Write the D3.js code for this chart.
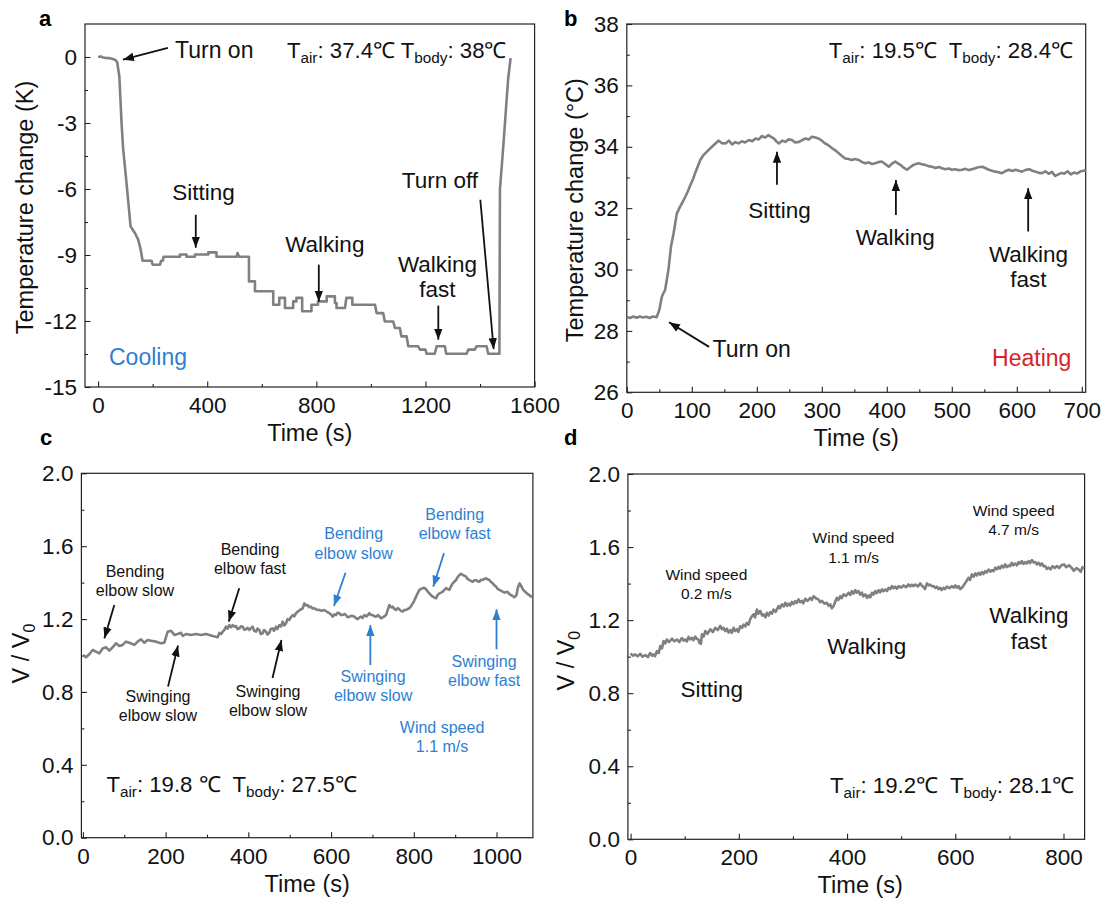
<!DOCTYPE html>
<html>
<head>
<meta charset="utf-8">
<script src="https://cdn.jsdelivr.net/npm/d3@7"></script>
<style>
  body { margin: 0; background: #fff; }
  svg { display: block; }
  text { font-family: "Liberation Sans", Arial, Helvetica, sans-serif; }
</style>
</head>
<body>
<svg id="fig" width="1106" height="902"></svg>
<script>
// ---------- (a) cooling: temperature change vs time ----------
const coolTime = [0, 10, 19, 28, 40, 50, 62, 70, 78, 82, 86, 92, 102, 110, 119, 127, 135, 147, 156, 163,
  196, 200, 227, 231, 237, 240, 300, 300, 324, 324, 355, 355, 404, 404, 434, 434, 508, 511, 517, 553,
  553, 575, 575, 642, 642, 664, 664, 685, 685, 715, 715, 727, 727, 748, 748, 782, 782, 806, 806, 838,
  838, 868, 868, 874, 874, 905, 910, 932, 932, 1015, 1021, 1045, 1051, 1082, 1088, 1106, 1112, 1131, 1137, 1173,
  1180, 1200, 1204, 1234, 1241, 1271, 1276, 1351, 1357, 1381, 1387, 1424, 1430, 1471, 1473, 1480, 1488, 1496, 1503, 1512];
const coolTemp = [0, 0.02, -0.02, -0.04, -0.05, -0.08, -0.12, -0.24, -0.9, -1.95, -3.0, -4.2, -5.45, -6.5, -7.7, -7.85, -8.0, -8.3, -8.75, -9.26,
  -9.26, -9.44, -9.44, -9.26, -9.26, -9.08, -9.08, -8.98, -8.98, -9.08, -9.08, -8.98, -8.98, -8.88, -8.88, -9.08, -9.08, -8.91, -9.08, -9.08,
  -10.2, -10.2, -10.65, -10.65, -11.26, -11.26, -10.95, -10.95, -11.41, -11.41, -11.11, -11.11, -10.95, -10.95, -11.56, -11.56, -11.26, -11.26, -11.11, -11.11,
  -10.88, -10.88, -11.18, -11.18, -11.41, -11.41, -10.95, -10.95, -11.26, -11.26, -11.64, -11.64, -12.02, -12.02, -12.32, -12.32, -12.7, -12.7, -13.15, -13.15,
  -13.3, -13.3, -13.49, -13.49, -13.15, -13.15, -13.49, -13.49, -13.3, -13.3, -13.15, -13.15, -13.49, -13.49, -6.0, -4.9, -3.6, -2.2, -1.0, -0.05];

// ---------- (b) heating: skin temperature vs time ----------
const heatTime = [0, 5, 10, 15, 20, 25, 30, 35, 40, 46, 50, 54, 59, 64, 68, 72, 77, 82, 86, 90,
  94, 98, 102, 105, 109, 113, 117, 121, 126, 131, 136, 141, 146, 152, 157, 162, 167, 172, 177, 182,
  188, 193, 198, 203, 208, 213, 218, 222, 226, 230, 234, 239, 244, 249, 254, 259, 265, 270, 275, 280,
  285, 290, 295, 300, 305, 310, 316, 321, 326, 331, 336, 341, 346, 351, 357, 362, 367, 372, 377, 382,
  387, 392, 397, 403, 408, 413, 417, 421, 426, 431, 436, 441, 445, 449, 454, 459, 464, 470, 475, 480,
  485, 490, 495, 500, 505, 510, 516, 521, 526, 531, 536, 541, 547, 552, 557, 562, 567, 572, 577, 582,
  588, 593, 598, 603, 608, 613, 619, 624, 629, 634, 639, 644, 649, 654, 659, 664, 669, 673, 678, 683,
  688, 693, 698, 703, 706];
const heatTemp = [28.45, 28.42, 28.47, 28.43, 28.47, 28.44, 28.46, 28.42, 28.47, 28.45, 28.68, 29.12, 29.34, 29.99, 30.75, 31.18, 31.83, 32.05, 32.2, 32.37,
  32.55, 32.76, 32.95, 33.14, 33.35, 33.57, 33.7, 33.79, 33.9, 34.0, 34.1, 34.2, 34.12, 34.11, 34.2, 34.08, 34.15, 34.11, 34.18, 34.14,
  34.22, 34.18, 34.27, 34.24, 34.35, 34.3, 34.38, 34.32, 34.27, 34.18, 34.11, 34.2, 34.16, 34.24, 34.22, 34.14, 34.16, 34.22, 34.27, 34.24,
  34.33, 34.3, 34.27, 34.2, 34.11, 34.05, 33.95, 33.88, 33.79, 33.7, 33.62, 33.6, 33.57, 33.6, 33.57, 33.5, 33.46, 33.49, 33.44, 33.46,
  33.5, 33.52, 33.45, 33.35, 33.45, 33.52, 33.46, 33.41, 33.32, 33.25, 33.33, 33.41, 33.44, 33.46, 33.43, 33.41, 33.37, 33.35, 33.31, 33.34,
  33.3, 33.27, 33.29, 33.25, 33.27, 33.24, 33.25, 33.28, 33.24, 33.27, 33.3, 33.33, 33.35, 33.3, 33.25, 33.22, 33.19, 33.17, 33.14, 33.2,
  33.25, 33.21, 33.25, 33.22, 33.19, 33.24, 33.27, 33.22, 33.19, 33.15, 33.14, 33.2, 33.12, 33.18, 33.05, 33.1, 33.15, 33.12, 33.2, 33.1,
  33.16, 33.13, 33.2, 33.22, 33.25];

// ---------- (c) output voltage ratio during arm motions: [time (s), V/V0] ----------
const armSeries = [[0,1.003],[7.5,0.99],[15.5,1.007],[23.6,1.03],[31.7,1.021],[39.7,1.012],[47.8,1.039],[55.8,1.045],[63.9,1.027],[72,1.045],
  [80,1.067],[88.1,1.052],[96.2,1.058],[104.2,1.076],[112.3,1.07],[124.4,1.058],[132.4,1.076],[140.5,1.089],[148.6,1.07],[156.6,1.085],
  [164.7,1.081],[176.8,1.076],[188.9,1.067],[196.9,1.07],[205,1.131],[213,1.136],[221.1,1.113],[229.2,1.118],[237.2,1.125],[241.3,1.107],
  [249.3,1.118],[261.4,1.113],[273.5,1.118],[285.6,1.113],[297.7,1.118],[313.8,1.107],[325.9,1.1],[330,1.125],[334,1.118],[338,1.131],
  [342,1.14],[346.1,1.158],[350,1.148],[354.1,1.167],[358,1.155],[362.2,1.167],[366,1.158],[370.2,1.162],[374,1.145],[378.3,1.149],
  [382,1.16],[386.4,1.158],[390,1.142],[394.4,1.144],[398,1.152],[402.5,1.14],[406,1.15],[410.5,1.158],[414,1.135],[418.6,1.131],
  [422,1.148],[426.7,1.14],[430,1.118],[434.7,1.122],[438,1.14],[442.8,1.131],[446,1.115],[450.8,1.125],[454,1.145],[458.9,1.149],
  [462,1.135],[467,1.158],[470,1.145],[475,1.167],[479,1.16],[483.1,1.186],[487,1.165],[491.1,1.177],[495,1.2],[499.2,1.195],
  [503,1.21],[507.3,1.222],[511,1.215],[515.3,1.232],[519.4,1.241],[525,1.25],[531.4,1.259],[535.5,1.286],[539,1.275],[543.5,1.277],
  [547,1.265],[551.6,1.268],[555,1.258],[559.7,1.259],[565,1.252],[571.8,1.25],[577,1.245],[583.8,1.25],[590,1.24],[595.9,1.232],
  [600,1.225],[604,1.213],[608,1.226],[612,1.222],[616,1.235],[620.1,1.232],[624,1.222],[628.2,1.222],[632,1.228],[636.2,1.222],
  [640,1.21],[644.3,1.213],[650,1.218],[656.4,1.213],[660,1.205],[664.5,1.199],[668,1.208],[672.5,1.213],[676,1.205],[680.6,1.222],
  [686,1.215],[692.7,1.232],[696,1.222],[700.7,1.222],[705,1.215],[708.8,1.213],[714,1.222],[720.9,1.204],[727,1.212],[733,1.222],
  [737,1.25],[741,1.277],[745,1.265],[749.1,1.268],[753,1.255],[757.2,1.25],[761,1.26],[765.2,1.253],[769,1.245],[773.3,1.241],
  [777,1.25],[781.3,1.25],[785,1.255],[789.4,1.259],[793,1.27],[797.5,1.286],[801,1.3],[805.5,1.323],[809,1.34],[813.6,1.36],
  [817,1.365],[821.6,1.369],[825,1.372],[829.7,1.363],[834,1.35],[837.8,1.341],[842,1.33],[845.8,1.323],[850,1.318],[853.9,1.314],
  [857,1.33],[861.9,1.341],[866,1.345],[870,1.35],[874,1.36],[878.1,1.369],[882,1.365],[886.1,1.36],[890,1.38],[894.2,1.396],
  [898,1.405],[902.2,1.414],[906,1.43],[910.3,1.442],[914,1.448],[918.4,1.442],[922,1.438],[926.4,1.433],[930,1.42],[934.5,1.414],
  [938,1.41],[942.5,1.405],[946,1.412],[950.6,1.414],[954,1.408],[958.7,1.405],[962,1.415],[966.7,1.414],[970,1.42],[974.8,1.424],
  [978,1.418],[982.8,1.414],[986,1.405],[990.9,1.396],[995,1.385],[999,1.378],[1003,1.365],[1007,1.36],[1015,1.35],[1020,1.345],
  [1026,1.35],[1032,1.335],[1038,1.328],[1043,1.32],[1048,1.33],[1052,1.375],[1056,1.396],[1060,1.38],[1064,1.362],[1069,1.35],
  [1074,1.34],[1080,1.33],[1086,1.32]];

// ---------- (d) output voltage ratio while sitting / walking: [time (s), V/V0] ----------
const walkSeries = [[0,1.018],[4,1.005],[8.5,1.012],[13,1.002],[17.8,1.015],[22,1.0],[27,1.008],[32,0.998],[36.3,1.02],[40,1.005],
  [42.4,1.012],[45,1.002],[48.6,1.03],[52,1.02],[54.8,1.058],[58,1.045],[60.9,1.085],[64,1.072],[67.1,1.094],[71,1.08],
  [76.3,1.098],[81,1.084],[85.6,1.094],[90,1.08],[94.8,1.102],[98,1.088],[101,1.094],[104,1.083],[107.1,1.108],[110,1.095],
  [113.3,1.103],[116,1.09],[119.4,1.11],[122,1.098],[125.6,1.093],[127,1.075],[128.7,1.085],[130,1.07],[131.8,1.122],[135,1.11],
  [137.9,1.14],[142,1.125],[147.2,1.15],[152,1.135],[156.4,1.158],[161,1.145],[165.6,1.168],[169,1.15],[171.8,1.158],[175,1.14],
  [178,1.153],[181,1.132],[184.1,1.145],[187,1.13],[190.3,1.158],[193,1.14],[196.5,1.15],[199,1.135],[202.6,1.167],[206,1.158],
  [208.8,1.176],[212,1.165],[214.9,1.185],[218,1.175],[221.1,1.205],[224,1.22],[227.3,1.232],[230,1.215],[233.4,1.258],[236,1.235],
  [239.6,1.25],[243,1.225],[245.7,1.232],[249,1.215],[251.9,1.24],[255,1.225],[258.1,1.244],[261,1.235],[264.2,1.258],[268,1.245],
  [273.5,1.277],[276,1.265],[279.6,1.286],[283,1.275],[285.8,1.295],[289,1.278],[291.9,1.29],[295,1.28],[298.1,1.3],[301,1.288],
  [304.3,1.304],[307,1.295],[310.4,1.313],[313,1.298],[316.6,1.305],[319,1.292],[322.8,1.317],[327,1.305],[332,1.322],[335,1.31],
  [338.2,1.331],[343,1.318],[347.4,1.313],[350,1.298],[353.6,1.305],[358,1.29],[362.8,1.295],[366,1.278],[369,1.286],[372,1.265],
  [375.1,1.277],[378,1.3],[381.3,1.322],[384,1.31],[387.4,1.331],[390,1.32],[393.6,1.341],[398,1.332],[402.8,1.35],[406,1.338],
  [409,1.359],[412,1.345],[415.2,1.364],[418,1.35],[421.3,1.359],[424,1.34],[427.5,1.35],[430,1.33],[433.7,1.341],[437,1.322],
  [439.8,1.335],[443,1.325],[446,1.35],[449,1.34],[452.1,1.359],[455,1.348],[458.3,1.364],[461,1.352],[464.5,1.368],[467,1.358],
  [470.6,1.368],[474,1.36],[476.8,1.377],[480,1.37],[483,1.386],[486,1.375],[489.1,1.383],[492,1.372],[495.3,1.386],[500,1.378],
  [504.5,1.39],[509,1.38],[513.7,1.395],[517,1.385],[519.9,1.394],[523,1.386],[526.1,1.395],[531,1.385],[535.3,1.401],[538,1.39],
  [541.5,1.38],[544,1.37],[547.6,1.401],[551,1.39],[553.8,1.394],[557,1.385],[560,1.386],[563,1.376],[566.1,1.383],[569,1.37],
  [572.3,1.377],[575,1.365],[578.4,1.377],[581,1.37],[584.6,1.383],[589,1.375],[593.8,1.386],[597,1.378],[600,1.39],[603,1.378],
  [606.2,1.386],[609,1.37],[612.3,1.377],[615,1.388],[618.5,1.404],[621,1.415],[624.6,1.432],[627,1.42],[630.8,1.45],[634,1.438],
  [637,1.456],[640,1.445],[643.1,1.459],[646,1.448],[649.3,1.463],[652,1.452],[655.4,1.468],[658,1.46],[661.6,1.477],[665,1.465],
  [667.8,1.474],[671,1.468],[673.9,1.487],[677,1.478],[680.1,1.492],[683,1.482],[686.3,1.499],[689,1.488],[692.4,1.505],[695,1.49],
  [698.6,1.499],[701,1.495],[704.7,1.514],[707,1.5],[710.9,1.51],[714,1.5],[717.1,1.518],[720,1.51],[723.2,1.523],[726,1.508],
  [729.4,1.518],[732,1.51],[735.6,1.523],[738,1.512],[741.7,1.529],[745,1.515],[747.9,1.518],[751,1.505],[754,1.514],[757,1.5],
  [760.2,1.51],[763,1.495],[766.4,1.496],[769,1.48],[772.5,1.487],[776,1.478],[780,1.495],[784,1.485],[788,1.496],[792,1.485],
  [796,1.5],[801,1.505],[805,1.49],[810,1.5],[815,1.487],[819,1.47],[824,1.485],[828,1.477],[832,1.465],[835,1.49],[838,1.482]];

// ---------- tick values ----------
const coolXTicks = [0, 400, 800, 1200, 1600];
const coolXMinor = [200, 600, 1000, 1400];
const coolYTicks = [-15, -12, -9, -6, -3, 0];
const coolYMinor = [-13.5, -10.5, -7.5, -4.5, -1.5];
const heatXTicks = [0, 100, 200, 300, 400, 500, 600, 700];
const heatXMinor = [50, 150, 250, 350, 450, 550, 650];
const heatYTicks = [26, 28, 30, 32, 34, 36, 38];
const heatYMinor = [27, 29, 31, 33, 35, 37];
const armXTicks = [0, 200, 400, 600, 800, 1000];
const armXMinor = [100, 300, 500, 700, 900];
const walkXTicks = [0, 200, 400, 600, 800];
const walkXMinor = [100, 300, 500, 700];
const ratioYTicks = [0, 0.4, 0.8, 1.2, 1.6, 2.0];
const ratioYMinor = [0.2, 0.6, 1.0, 1.4, 1.8];

const BLUE = "#2d7fd3";
const RED = "#d8232a";
const LINE = "#808080";
const INK = "#111";

const svg = d3.select("#fig");

// arrowhead markers
const defs = svg.append("defs");
[["headBlack", INK], ["headBlue", BLUE]].forEach(([id, col]) => {
  defs.append("marker").attr("id", id)
    .attr("viewBox", "-11 -5 11 10").attr("refX", 0).attr("refY", 0)
    .attr("markerWidth", 11).attr("markerHeight", 10)
    .attr("markerUnits", "userSpaceOnUse").attr("orient", "auto")
    .append("path").attr("d", "M-11,-4.2L0,0L-11,4.2Z").attr("fill", col);
});

function styleAxis(sel) {
  sel.select(".domain").remove();
  sel.selectAll("line").attr("stroke", "#222").attr("stroke-width", 1.1);
  sel.selectAll("text").attr("font-size", 22.5).attr("font-family", "Liberation Sans, Arial, sans-serif").attr("fill", INK);
}

function panel(o) {
  const g = svg.append("g");
  const x = d3.scaleLinear().domain(o.xDomain).range([o.left, o.right]);
  const y = d3.scaleLinear().domain(o.yDomain).range([o.bottom, o.top]);

  g.append("g").attr("transform", `translate(0,${o.bottom})`)
    .call(d3.axisBottom(x).tickValues(o.xMinor).tickSize(-3).tickFormat(""))
    .call(styleAxis);
  g.append("g").attr("transform", `translate(0,${o.bottom})`)
    .call(d3.axisBottom(x).tickValues(o.xTicks).tickSize(-5.5).tickPadding(10).tickFormat(o.xFmt))
    .call(styleAxis);
  g.append("g").attr("transform", `translate(${o.left},0)`)
    .call(d3.axisLeft(y).tickValues(o.yMinor).tickSize(-3).tickFormat(""))
    .call(styleAxis);
  g.append("g").attr("transform", `translate(${o.left},0)`)
    .call(d3.axisLeft(y).tickValues(o.yTicks).tickSize(-5.5).tickPadding(8).tickFormat(o.yFmt))
    .call(styleAxis);

  g.append("rect").attr("x", o.left).attr("y", o.top)
    .attr("width", o.right - o.left).attr("height", o.bottom - o.top)
    .attr("fill", "none").attr("stroke", "#222").attr("stroke-width", 1.2);

  g.append("path").datum(o.pts)
    .attr("d", d3.line().x(d => x(d[0])).y(d => y(d[1])))
    .attr("fill", "none").attr("stroke", LINE).attr("stroke-width", 2.6)
    .attr("stroke-linejoin", "round").attr("stroke-linecap", "butt");

  // axis titles
  g.append("text").attr("x", (o.left + o.right) / 2 + (o.xTitleDx || 0)).attr("y", o.bottom + 54)
    .attr("text-anchor", "middle").attr("font-size", 23.5).attr("fill", INK).text("Time (s)");
  const yt = g.append("text")
    .attr("transform", `translate(${o.yTitleX},${(o.top + o.bottom) / 2 + (o.yTitleDy || 0)}) rotate(-90)`)
    .attr("text-anchor", "middle").attr("font-size", 23.5).attr("fill", INK);
  o.yTitle.forEach(([s, sub]) => {
    if (sub) yt.append("tspan").attr("font-size", 16).attr("dy", 6).text(s);
    else yt.append("tspan").attr("dy", 0).text(s);
  });

  // panel letter
  svg.append("text").attr("x", o.letterX).attr("y", o.letterY)
    .attr("font-size", 22).attr("font-weight", "bold").attr("fill", "#000").text(o.letter);

  return { g, x, y };
}

// multi-line label, lines centred (or anchored) at a data point
function label(p, tx, vy, lines, opts = {}) {
  const size = opts.size || 22.5, gap = opts.gap || 25;
  const t = p.g.append("text").attr("x", p.x(tx)).attr("y", p.y(vy))
    .attr("text-anchor", opts.anchor || "middle").attr("font-size", size)
    .attr("fill", opts.color || INK);
  lines.forEach((s, i) => t.append("tspan").attr("x", p.x(tx)).attr("dy", i === 0 ? 0 : gap).text(s));
}

function arrow(p, t1, v1, t2, v2, color) {
  const blue = color === BLUE;
  p.g.append("line")
    .attr("x1", p.x(t1)).attr("y1", p.y(v1)).attr("x2", p.x(t2)).attr("y2", p.y(v2))
    .attr("stroke", blue ? BLUE : INK).attr("stroke-width", 1.8)
    .attr("marker-end", `url(#${blue ? "headBlue" : "headBlack"})`);
}

// "T_air: ...  T_body: ..." annotation with subscripts
function tempNote(p, tx, vy, parts, anchor) {
  const t = p.g.append("text").attr("x", p.x(tx)).attr("y", p.y(vy))
    .attr("text-anchor", anchor).attr("font-size", 22.2).attr("fill", INK).style("white-space", "pre");
  let shifted = false;
  parts.forEach(([s, sub]) => {
    const ts = t.append("tspan").text(s);
    if (sub && !shifted) { ts.attr("font-size", 15.3).attr("dy", 5); shifted = true; }
    else if (!sub && shifted) { ts.attr("dy", -5); shifted = false; }
  });
}

const fmtInt = d => String(d);
const fmt1 = d3.format(".1f");

// ---------- panel a ----------
const pa = panel({
  left: 85, right: 534.6, top: 24, bottom: 387,
  xDomain: [-48, 1600], yDomain: [-15, 1.5],
  xTicks: coolXTicks, xMinor: coolXMinor, yTicks: coolYTicks, yMinor: coolYMinor,
  xFmt: fmtInt, yFmt: fmtInt, pts: coolTime.map((t, i) => [t, coolTemp[i]]),
  yTitle: [["Temperature change (K)", 0]], yTitleX: 33, yTitleDy: 2,
  letter: "a", letterX: 39, letterY: 26
});
label(pa, 282, -0.03, ["Turn on"], { anchor: "start", size: 23 });
arrow(pa, 256, 0.42, 91, -0.12);
tempNote(pa, 1497, -0.03, [["T", 0], ["air", 1], [": 37.4\u2103 T", 0], ["body", 1], [": 38\u2103", 0]], "end");
label(pa, 386, -6.49, ["Sitting"]);
arrow(pa, 358, -7.17, 358, -8.67);
label(pa, 831, -8.85, ["Walking"]);
arrow(pa, 809, -9.44, 809, -11.12);
label(pa, 1244, -9.76, ["Walking", "fast"]);
arrow(pa, 1247, -11.3, 1247, -12.85);
label(pa, 1253, -5.94, ["Turn off"]);
arrow(pa, 1401, -6.49, 1450, -13.28);
label(pa, 40, -13.98, ["Cooling"], { anchor: "start", color: BLUE, size: 23 });

// ---------- panel b ----------
const pb = panel({
  left: 626.8, right: 1085.7, top: 24, bottom: 392.3,
  xDomain: [0, 706], yDomain: [26, 38],
  xTicks: heatXTicks, xMinor: heatXMinor, yTicks: heatYTicks, yMinor: heatYMinor,
  xFmt: fmtInt, yFmt: fmtInt, pts: heatTime.map((t, i) => [t, heatTemp[i]]),
  yTitle: [["Temperature change (\u00B0C)", 0]], yTitleX: 583, yTitleDy: 2,
  letter: "b", letterX: 564, letterY: 26
});
tempNote(pb, 686.5, 36.89, [["T", 0], ["air", 1], [": 19.5\u2103  T", 0], ["body", 1], [": 28.4\u2103", 0]], "end");
label(pb, 235, 31.68, ["Sitting"]);
arrow(pb, 231, 32.76, 231, 33.84);
label(pb, 413, 30.8, ["Walking"]);
arrow(pb, 414, 31.78, 414, 32.92);
label(pb, 618, 30.25, ["Walking", "fast"]);
arrow(pb, 617.5, 31.24, 617.5, 32.65);
label(pb, 131.8, 27.15, ["Turn on"], { anchor: "start", size: 23 });
arrow(pb, 126.5, 27.48, 65, 28.28);
label(pb, 684, 26.86, ["Heating"], { anchor: "end", color: RED, size: 23 });

// ---------- panel c ----------
const pc = panel({
  left: 81.4, right: 532.9, top: 473.3, bottom: 837.7,
  xDomain: [-3.6, 1088], yDomain: [0, 2],
  xTicks: armXTicks, xMinor: armXMinor, yTicks: ratioYTicks, yMinor: ratioYMinor,
  xFmt: fmtInt, yFmt: fmt1, pts: armSeries,
  yTitle: [["V / V", 0], ["0", 1]], yTitleX: 29, yTitleDy: -2,
  letter: "c", letterX: 40, letterY: 445
});
const small = { size: 16, gap: 19.5 };
label(pc, 126, 1.4325, ["Bending", "elbow slow"], small);
arrow(pc, 76, 1.277, 52, 1.094);
label(pc, 404, 1.5516, ["Bending", "elbow fast"], small);
arrow(pc, 378, 1.369, 352.6, 1.186);
label(pc, 181.6, 0.7464, ["Swinging", "elbow slow"], small);
arrow(pc, 205.8, 0.829, 230, 1.055);
label(pc, 447.6, 0.774, ["Swinging", "elbow slow"], small);
arrow(pc, 458.5, 0.8765, 480, 1.085);
const smallBlue = { size: 16, gap: 19.5, color: BLUE };
label(pc, 654.7, 1.638, ["Bending", "elbow slow"], smallBlue);
arrow(pc, 635, 1.4545, 607, 1.272, BLUE);
label(pc, 899, 1.7437, ["Bending", "elbow fast"], smallBlue);
arrow(pc, 873, 1.561, 847, 1.378, BLUE);
label(pc, 701.6, 0.856, ["Swinging", "elbow slow"], smallBlue);
arrow(pc, 695, 0.948, 695, 1.167, BLUE);
label(pc, 970, 0.9385, ["Swinging", "elbow fast"], smallBlue);
arrow(pc, 1000, 1.034, 1000, 1.2535, BLUE);
label(pc, 868.4, 0.576, ["Wind speed", "1.1 m/s"], smallBlue);
tempNote(pc, 56.8, 0.2525, [["T", 0], ["air", 1], [": 19.8 \u2103  T", 0], ["body", 1], [": 27.5\u2103", 0]], "start");

// ---------- panel d ----------
const pd = panel({
  left: 627.9, right: 1084.6, top: 474, bottom: 839.3,
  xDomain: [-5, 839], yDomain: [0, 2],
  xTicks: walkXTicks, xMinor: walkXMinor, yTicks: ratioYTicks, yMinor: ratioYMinor,
  xFmt: fmtInt, yFmt: fmt1, pts: walkSeries,
  yTitle: [["V / V", 0], ["0", 1]], yTitleX: 574, yTitleDy: 4, xTitleDx: 4,
  letter: "d", letterX: 564, letterY: 445
});
const wind = { size: 15.5, gap: 19.3 };
label(pd, 140, 1.4196, ["Wind speed", "0.2 m/s"], wind);
label(pd, 412, 1.6206, ["Wind speed", "1.1 m/s"], wind);
label(pd, 707.8, 1.770, ["Wind speed", "4.7 m/s"], wind);
label(pd, 150, 0.7807, ["Sitting"]);
label(pd, 436.4, 1.0145, ["Walking"]);
label(pd, 736, 1.186, ["Walking", "fast"], { gap: 26.5 });
tempNote(pd, 368.4, 0.2518, [["T", 0], ["air", 1], [": 19.2\u2103  T", 0], ["body", 1], [": 28.1\u2103", 0]], "start");
</script>
</body>
</html>
